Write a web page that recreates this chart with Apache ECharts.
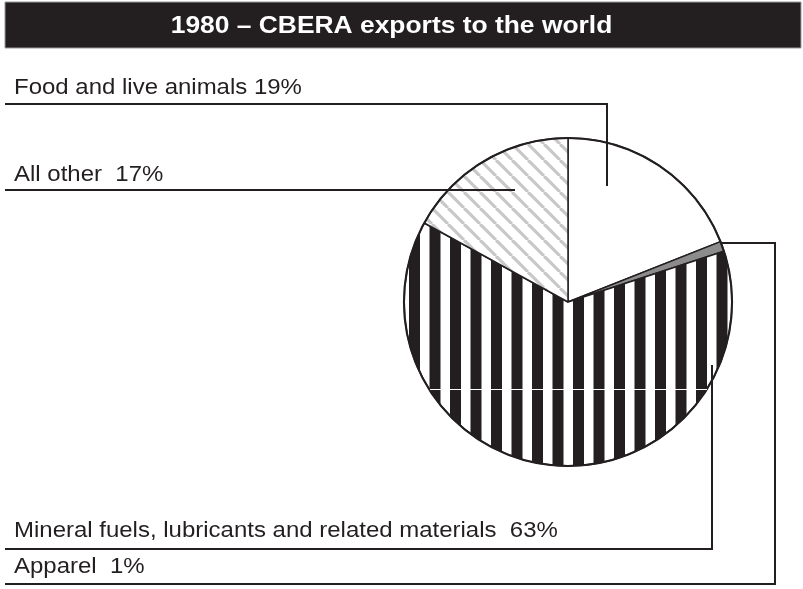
<!DOCTYPE html>
<html>
<head>
<meta charset="utf-8">
<script src="https://cdn.jsdelivr.net/npm/echarts@6/dist/echarts.min.js"></script>
<style>
html,body{margin:0;padding:0;background:#fff;}
#chart{width:803px;height:589px;}
</style>
</head>
<body>
<div id="chart"></div>
<script>
// ---- data ----
var titleText = '1980 \u2013 CBERA exports to the world';
var categories = ['Food and live animals', 'Apparel', 'Mineral fuels, lubricants and related materials', 'All other'];
var values = [19, 1, 63, 17];
var labelSeps = [' ', '  ', '  ', '  '];

var INK = '#231f20';
var FONT = '"Liberation Sans", Arial, Helvetica, sans-serif';

// patterns
function stripeTile() {
  var c = document.createElement('canvas');
  c.width = 41; c.height = 41;
  var g = c.getContext('2d');
  g.fillStyle = '#ffffff'; g.fillRect(0, 0, 41, 41);
  g.fillStyle = INK;
  g.fillRect(19.5, 0, 11, 41);
  g.fillRect(40, 0, 1, 41);
  g.fillRect(0, 0, 10, 41);
  return c;
}
function hatchTile() {
  var s = 16;
  var c = document.createElement('canvas');
  c.width = s; c.height = s;
  var g = c.getContext('2d');
  g.fillStyle = '#ffffff'; g.fillRect(0, 0, s, s);
  g.strokeStyle = '#c8c8c8'; g.lineWidth = 3.2;
  for (var k = -1; k <= 1; k++) {
    g.beginPath();
    g.moveTo(k * s, 0);
    g.lineTo(k * s + s, s);
    g.stroke();
  }
  return c;
}
var fills = [
  '#ffffff',
  '#8c8c8c',
  { image: stripeTile(), repeat: 'repeat' },
  { image: hatchTile(), repeat: 'repeat' }
];

var chart = echarts.init(document.getElementById('chart'), null, { renderer: 'canvas' });

var CX = 568, CY = 302, R = 164;

var pieData = categories.map(function (c, i) {
  return { name: c, value: values[i], itemStyle: { color: fills[i] } };
});

function txt(str, x, y, size, bold, color, sx, align) {
  return {
    type: 'text', x: x, y: y, scaleX: sx, silent: true, z: 100,
    style: {
      text: str, x: 0, y: 0, fill: color,
      font: (bold ? 'bold ' : '') + size + 'px ' + FONT,
      textAlign: align || 'left', textVerticalAlign: 'middle'
    }
  };
}
function poly(pts) {
  return {
    type: 'polyline', silent: true, z: 90,
    shape: { points: pts },
    style: { stroke: INK, lineWidth: 2, fill: null }
  };
}
function lbl(i) { return categories[i] + labelSeps[i] + values[i] + '%'; }

var graphics = [
  { type: 'rect', silent: true, z: 80, shape: { x: 5, y: 2, width: 796, height: 46 }, style: { fill: INK, stroke: '#9a9a9a', lineWidth: 1 } },
  txt(titleText, 391.5, 26, 24, true, '#ffffff', 1.1, 'center'),
  txt(lbl(0), 14, 88, 22, false, INK, 1.09),
  txt(lbl(3), 14, 175, 22, false, INK, 1.09),
  txt(lbl(2), 14, 531, 22, false, INK, 1.09),
  txt(lbl(1), 14, 567, 22, false, INK, 1.09),
  poly([[5, 104], [607, 104], [607, 186]]),
  poly([[5, 190], [515, 190]]),
  poly([[5, 549], [712, 549], [712, 365]]),
  poly([[5, 584], [775, 584], [775, 243], [722, 243]]),
  { type: 'line', silent: true, z: 85, shape: { x1: 430, y1: 389.5, x2: 707, y2: 389.5 }, style: { stroke: '#ffffff', lineWidth: 1 } }
];

chart.setOption({
  animation: false,
  backgroundColor: '#ffffff',
  series: [{
    type: 'pie',
    center: [CX, CY],
    radius: R,
    startAngle: 90,
    clockwise: true,
    silent: true,
    label: { show: false },
    labelLine: { show: false },
    itemStyle: { borderColor: INK, borderWidth: 1.5 },
    data: pieData
  }, {
    type: 'pie',
    center: [CX, CY],
    radius: [R, R + 0.1],
    silent: true,
    label: { show: false },
    labelLine: { show: false },
    itemStyle: { color: 'none', borderColor: INK, borderWidth: 2 },
    data: [{ value: 1 }]
  }],
  graphic: graphics
});
</script>
</body>
</html>
